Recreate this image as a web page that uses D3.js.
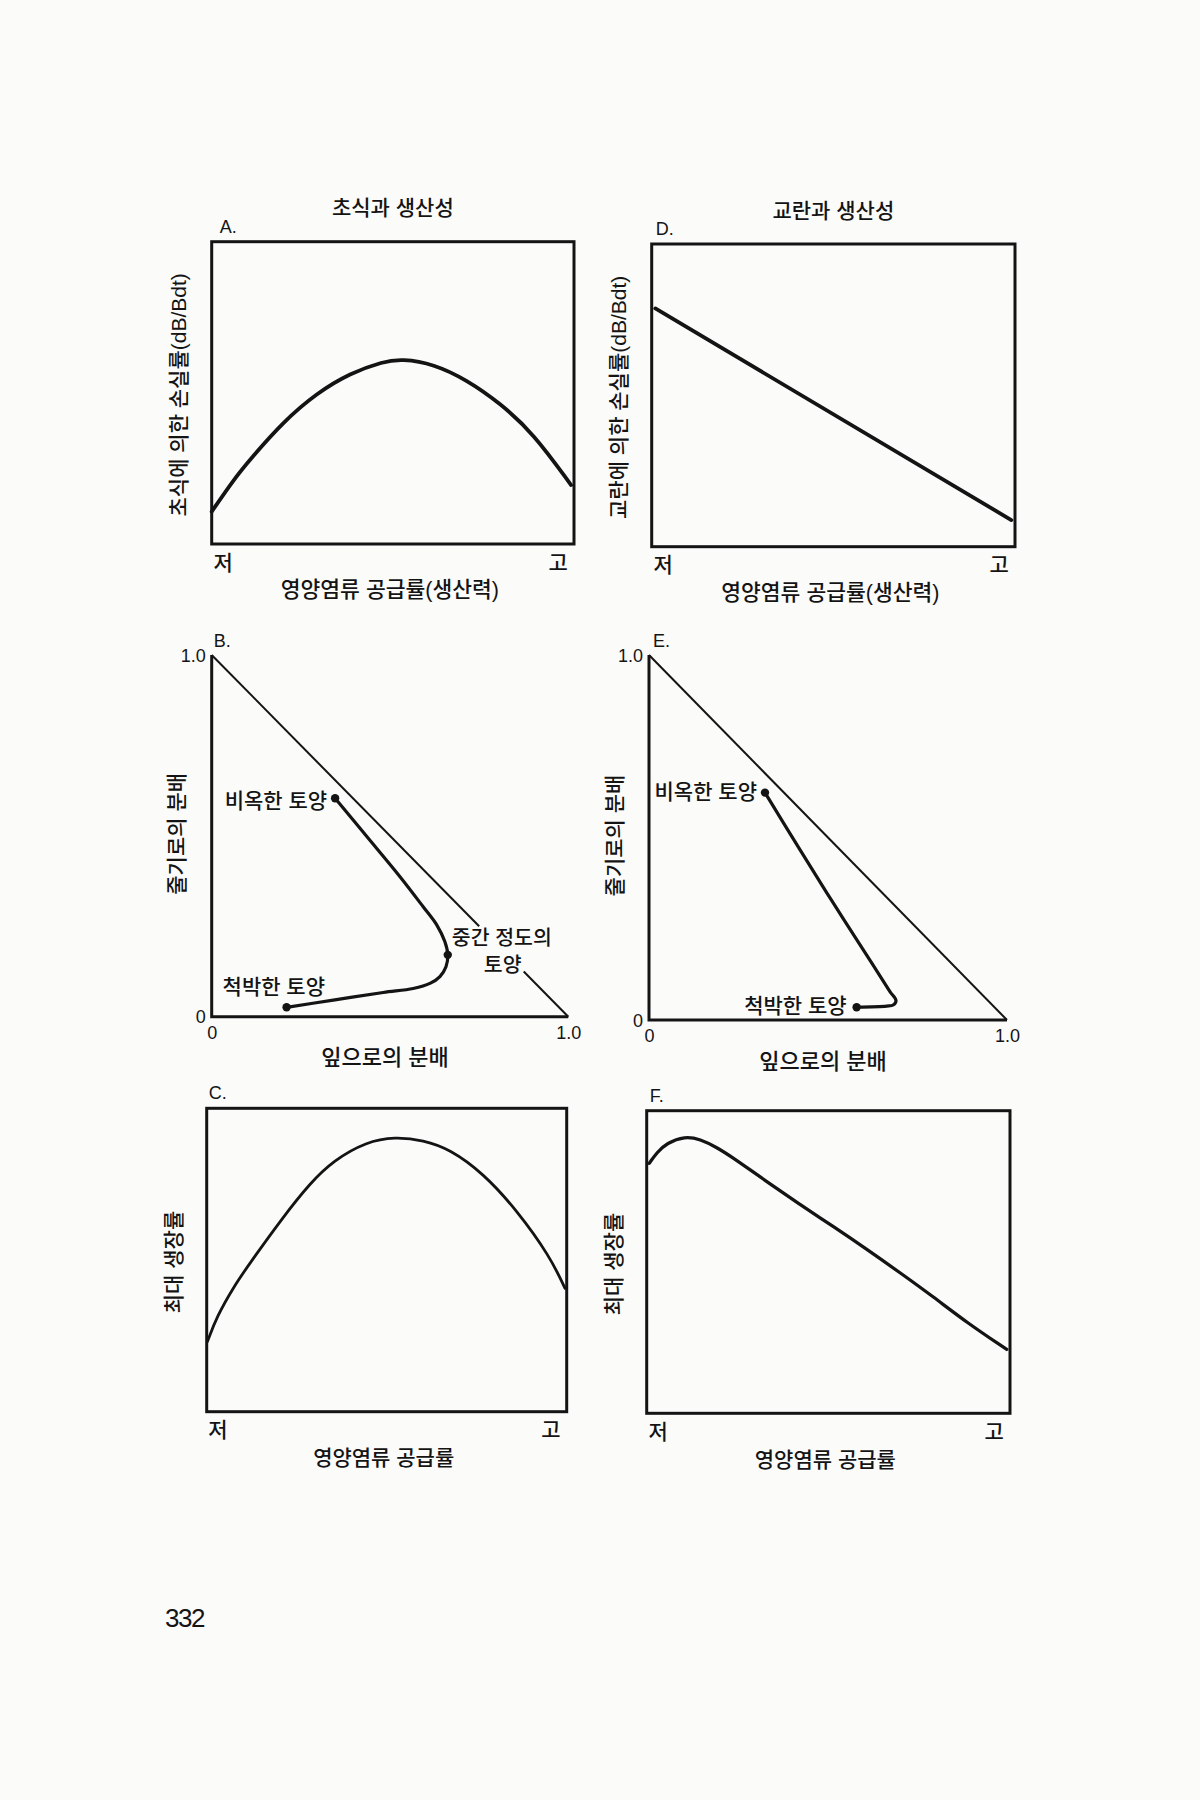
<!DOCTYPE html>
<html>
<head>
<meta charset="utf-8">
<script src="https://cdn.jsdelivr.net/npm/d3@7"></script>
<style>
body { margin: 0; background: #fbfbfa; }
svg { display: block; }
text { font-family: "Liberation Sans", "Noto Sans CJK KR", sans-serif; fill: #141414; font-weight: 500; }
</style>
</head>
<body>
<svg id="page" width="1200" height="1800"></svg>
<script>
// ---- values (each panel runs 0..1 on both axes) ----
var columnTitles = ["초식과 생산성", "교란과 생산성"];
var lowHigh = ["저", "고"];
var lowHighAt = [0.03, 0.955];
var supplyLabel = "영양염류 공급률(생산력)";
var supplyLabelShort = "영양염류 공급률";
var lossLabels = ["초식에 의한 손실률(dB/Bdt)", "교란에 의한 손실률(dB/Bdt)"];
var growthLabel = "최대 생장률";
var leafLabel = "잎으로의 분배";
var stemLabel = "줄기로의 분배";
var triTicks = [0, 1];
var triTickText = ["0", "1.0"];
var pageNumber = "332";

// A. loss to grazing vs nutrient supply
var grazingLoss = [[0, 0.107], [0.06, 0.212], [0.106, 0.28], [0.198, 0.405], [0.29, 0.499],
  [0.382, 0.565], [0.474, 0.604], [0.525, 0.612], [0.612, 0.596], [0.704, 0.543],
  [0.796, 0.466], [0.888, 0.366], [0.992, 0.195]];
// D. loss to disturbance
var disturbLoss = [[0.01, 0.787], [0.99, 0.088]];
// B. leaf / stem allocation path
var allocB = [[0.346, 0.604], [0.435, 0.498], [0.528, 0.387], [0.593, 0.304], [0.631, 0.254],
  [0.654, 0.207], [0.662, 0.171], [0.657, 0.138], [0.64, 0.111], [0.612, 0.092],
  [0.565, 0.078], [0.481, 0.067], [0.341, 0.046], [0.21, 0.026]];
var allocBDots = [0, 6, 13];
var hypGapB = [0.75, 0.875];
// E. allocation path
var allocE = [[0.324, 0.623], [0.422, 0.466], [0.515, 0.32], [0.608, 0.178], [0.673, 0.078],
  [0.69, 0.053], [0.682, 0.041], [0.664, 0.038], [0.58, 0.035]];
var allocEDots = [0, 8];
// C. maximum growth rate
var growthC = [[0.002, 0.231], [0.028, 0.313], [0.074, 0.41], [0.12, 0.49], [0.213, 0.643],
  [0.287, 0.753], [0.352, 0.828], [0.444, 0.89], [0.523, 0.906], [0.602, 0.895],
  [0.676, 0.865], [0.768, 0.786], [0.861, 0.665], [0.954, 0.511], [0.995, 0.407]];
// F. maximum growth rate
var growthF = [[0.007, 0.826], [0.028, 0.862], [0.055, 0.893], [0.105, 0.916], [0.147, 0.906],
  [0.193, 0.879], [0.238, 0.844], [0.284, 0.805], [0.33, 0.766], [0.422, 0.69],
  [0.514, 0.617], [0.606, 0.542], [0.697, 0.465], [0.789, 0.385], [0.881, 0.3],
  [0.991, 0.211]];

// ---- layout ----
var ink = "#141414";
var svg = d3.select("#page");

function scalesFor(f) {
  return {
    x: d3.scaleLinear().domain([0, 1]).range([f.x0, f.x1]),
    y: d3.scaleLinear().domain([0, 1]).range([f.y1, f.y0])
  };
}

function smooth(s, curve) {
  return d3.line()
    .x(function(d) { return s.x(d[0]); })
    .y(function(d) { return s.y(d[1]); })
    .curve(curve);
}

function letter(g, x, y, txt) {
  g.append("text").attr("x", x).attr("y", y)
    .attr("dominant-baseline", "central")
    .style("font-size", "18px").style("font-weight", 400).text(txt);
}

function yLabel(g, x, y, txt, size) {
  g.append("text")
    .attr("transform", "translate(" + x + "," + y + ") rotate(-90)")
    .attr("text-anchor", "middle").attr("dominant-baseline", "central")
    .style("font-size", size + "px").text(txt);
}

function boxPanel(f, pts, o) {
  var s = scalesFor(f);
  var g = svg.append("g");
  g.append("rect")
    .attr("x", s.x(0)).attr("y", s.y(1))
    .attr("width", s.x(1) - s.x(0)).attr("height", s.y(0) - s.y(1))
    .attr("fill", "none").attr("stroke", ink).attr("stroke-width", 3);
  g.append("path").attr("d", smooth(s, d3.curveBasis)(pts))
    .attr("fill", "none").attr("stroke", ink)
    .attr("stroke-width", o.curveW).attr("stroke-linecap", "round");

  var ax = g.append("g").attr("transform", "translate(0," + s.y(0) + ")")
    .call(d3.axisBottom(s.x).tickValues(lowHighAt)
      .tickFormat(function(d, i) { return lowHigh[i]; }).tickSize(0));
  ax.select(".domain").remove();
  ax.selectAll("text").attr("y", 18).attr("dy", null)
    .attr("dominant-baseline", "central").style("font-size", "21px");

  letter(g, f.x0 + o.letterDx, f.y0 - 15, o.letter);
  var cx = (f.x0 + f.x1) / 2;
  g.append("text").attr("x", cx - 3).attr("y", f.y1 + 46)
    .attr("text-anchor", "middle").attr("dominant-baseline", "central")
    .style("font-size", o.xSize + "px").text(o.xLabel);
  yLabel(g, f.x0 - 33, (f.y0 + f.y1) / 2 + 2, o.yLabel, o.ySize);
  if (o.title) {
    g.append("text").attr("x", cx).attr("y", f.y0 - 34)
      .attr("text-anchor", "middle").attr("dominant-baseline", "central")
      .style("font-size", "21px").text(o.title);
  }
}

function trianglePanel(f, pts, dots, o) {
  var s = scalesFor(f);
  var g = svg.append("g");
  var straight = smooth(s, d3.curveLinear);
  g.append("path").attr("d", straight([[0, 1], [0, 0], [1, 0]]))
    .attr("fill", "none").attr("stroke", ink).attr("stroke-width", 3);
  var hyp = o.gap
    ? [[[0, 1], [o.gap[0], 1 - o.gap[0]]], [[o.gap[1], 1 - o.gap[1]], [1, 0]]]
    : [[[0, 1], [1, 0]]];
  hyp.forEach(function(seg) {
    g.append("path").attr("d", straight(seg))
      .attr("fill", "none").attr("stroke", ink).attr("stroke-width", 2);
  });
  g.append("path").attr("d", smooth(s, d3.curveCatmullRom.alpha(0.5))(pts))
    .attr("fill", "none").attr("stroke", ink)
    .attr("stroke-width", 3.2).attr("stroke-linecap", "round");
  g.selectAll(".dot").data(dots).enter().append("circle")
    .attr("cx", function(i) { return s.x(pts[i][0]); })
    .attr("cy", function(i) { return s.y(pts[i][1]); })
    .attr("r", 4.2).attr("fill", ink);

  o.notes.forEach(function(n) {
    var p = pts[dots[n.dot]];
    g.append("text").attr("x", s.x(p[0]) + n.dx).attr("y", s.y(p[1]) + n.dy)
      .attr("text-anchor", n.anchor).attr("dominant-baseline", "central")
      .style("font-size", n.size + "px").text(n.text);
  });

  var fmt = function(d, i) { return triTickText[i]; };
  var ay = g.append("g").attr("transform", "translate(" + s.x(0) + ",0)")
    .call(d3.axisLeft(s.y).tickValues(triTicks).tickFormat(fmt).tickSize(0).tickPadding(6));
  ay.select(".domain").remove();
  ay.selectAll("text").attr("dy", null).attr("dominant-baseline", "central").style("font-size", "18px");
  var axb = g.append("g").attr("transform", "translate(0," + s.y(0) + ")")
    .call(d3.axisBottom(s.x).tickValues(triTicks).tickFormat(fmt).tickSize(0));
  axb.select(".domain").remove();
  axb.selectAll("text").attr("y", 16).attr("dy", null).attr("dominant-baseline", "central").style("font-size", "18px");

  letter(g, f.x0 + o.letterDx, f.y0 - 14, o.letter);
  g.append("text").attr("x", (f.x0 + f.x1) / 2 - 5).attr("y", f.y1 + 41)
    .attr("text-anchor", "middle").attr("dominant-baseline", "central")
    .style("font-size", "22px").text(leafLabel);
  yLabel(g, f.x0 - 35, (f.y0 + f.y1) / 2 - 2, stemLabel, 21);
}

boxPanel({x0: 211.7, x1: 574, y0: 241.7, y1: 544}, grazingLoss,
  {curveW: 3.8, letter: "A.", letterDx: 8, title: columnTitles[0],
   xLabel: supplyLabel, xSize: 21.5, yLabel: lossLabels[0], ySize: 21});
boxPanel({x0: 651.7, x1: 1015, y0: 244, y1: 546.7}, disturbLoss,
  {curveW: 3.8, letter: "D.", letterDx: 4, title: columnTitles[1],
   xLabel: supplyLabel, xSize: 21.5, yLabel: lossLabels[1], ySize: 21});

trianglePanel({x0: 211.7, x1: 568.3, y0: 655, y1: 1016.7}, allocB, allocBDots,
  {letter: "B.", letterDx: 2, gap: hypGapB, notes: [
    {dot: 0, text: "비옥한 토양", anchor: "end", dx: -8, dy: 2, size: 21},
    {dot: 1, text: "중간 정도의", anchor: "start", dx: 4, dy: -17, size: 20.5},
    {dot: 1, text: "토양", anchor: "start", dx: 36, dy: 10, size: 20.5},
    {dot: 2, text: "척박한 토양", anchor: "start", dx: -64, dy: -21, size: 21}]});
trianglePanel({x0: 649, x1: 1007, y0: 655, y1: 1020}, allocE, allocEDots,
  {letter: "E.", letterDx: 4, gap: null, notes: [
    {dot: 0, text: "비옥한 토양", anchor: "end", dx: -8, dy: -1, size: 21},
    {dot: 1, text: "척박한 토양", anchor: "end", dx: -10, dy: -2, size: 21}]});

boxPanel({x0: 206.7, x1: 566.7, y0: 1108.3, y1: 1411.7}, growthC,
  {curveW: 2.8, letter: "C.", letterDx: 2, xLabel: supplyLabelShort, xSize: 21,
   yLabel: growthLabel, ySize: 21});
boxPanel({x0: 646.7, x1: 1010, y0: 1110.7, y1: 1413.3}, growthF,
  {curveW: 3.3, letter: "F.", letterDx: 3, xLabel: supplyLabelShort, xSize: 21,
   yLabel: growthLabel, ySize: 21});

svg.append("text").attr("x", 165).attr("y", 1618)
  .attr("dominant-baseline", "central")
  .style("font-size", "26px").style("letter-spacing", "-1.5px")
  .text(pageNumber);
</script>
</body>
</html>
